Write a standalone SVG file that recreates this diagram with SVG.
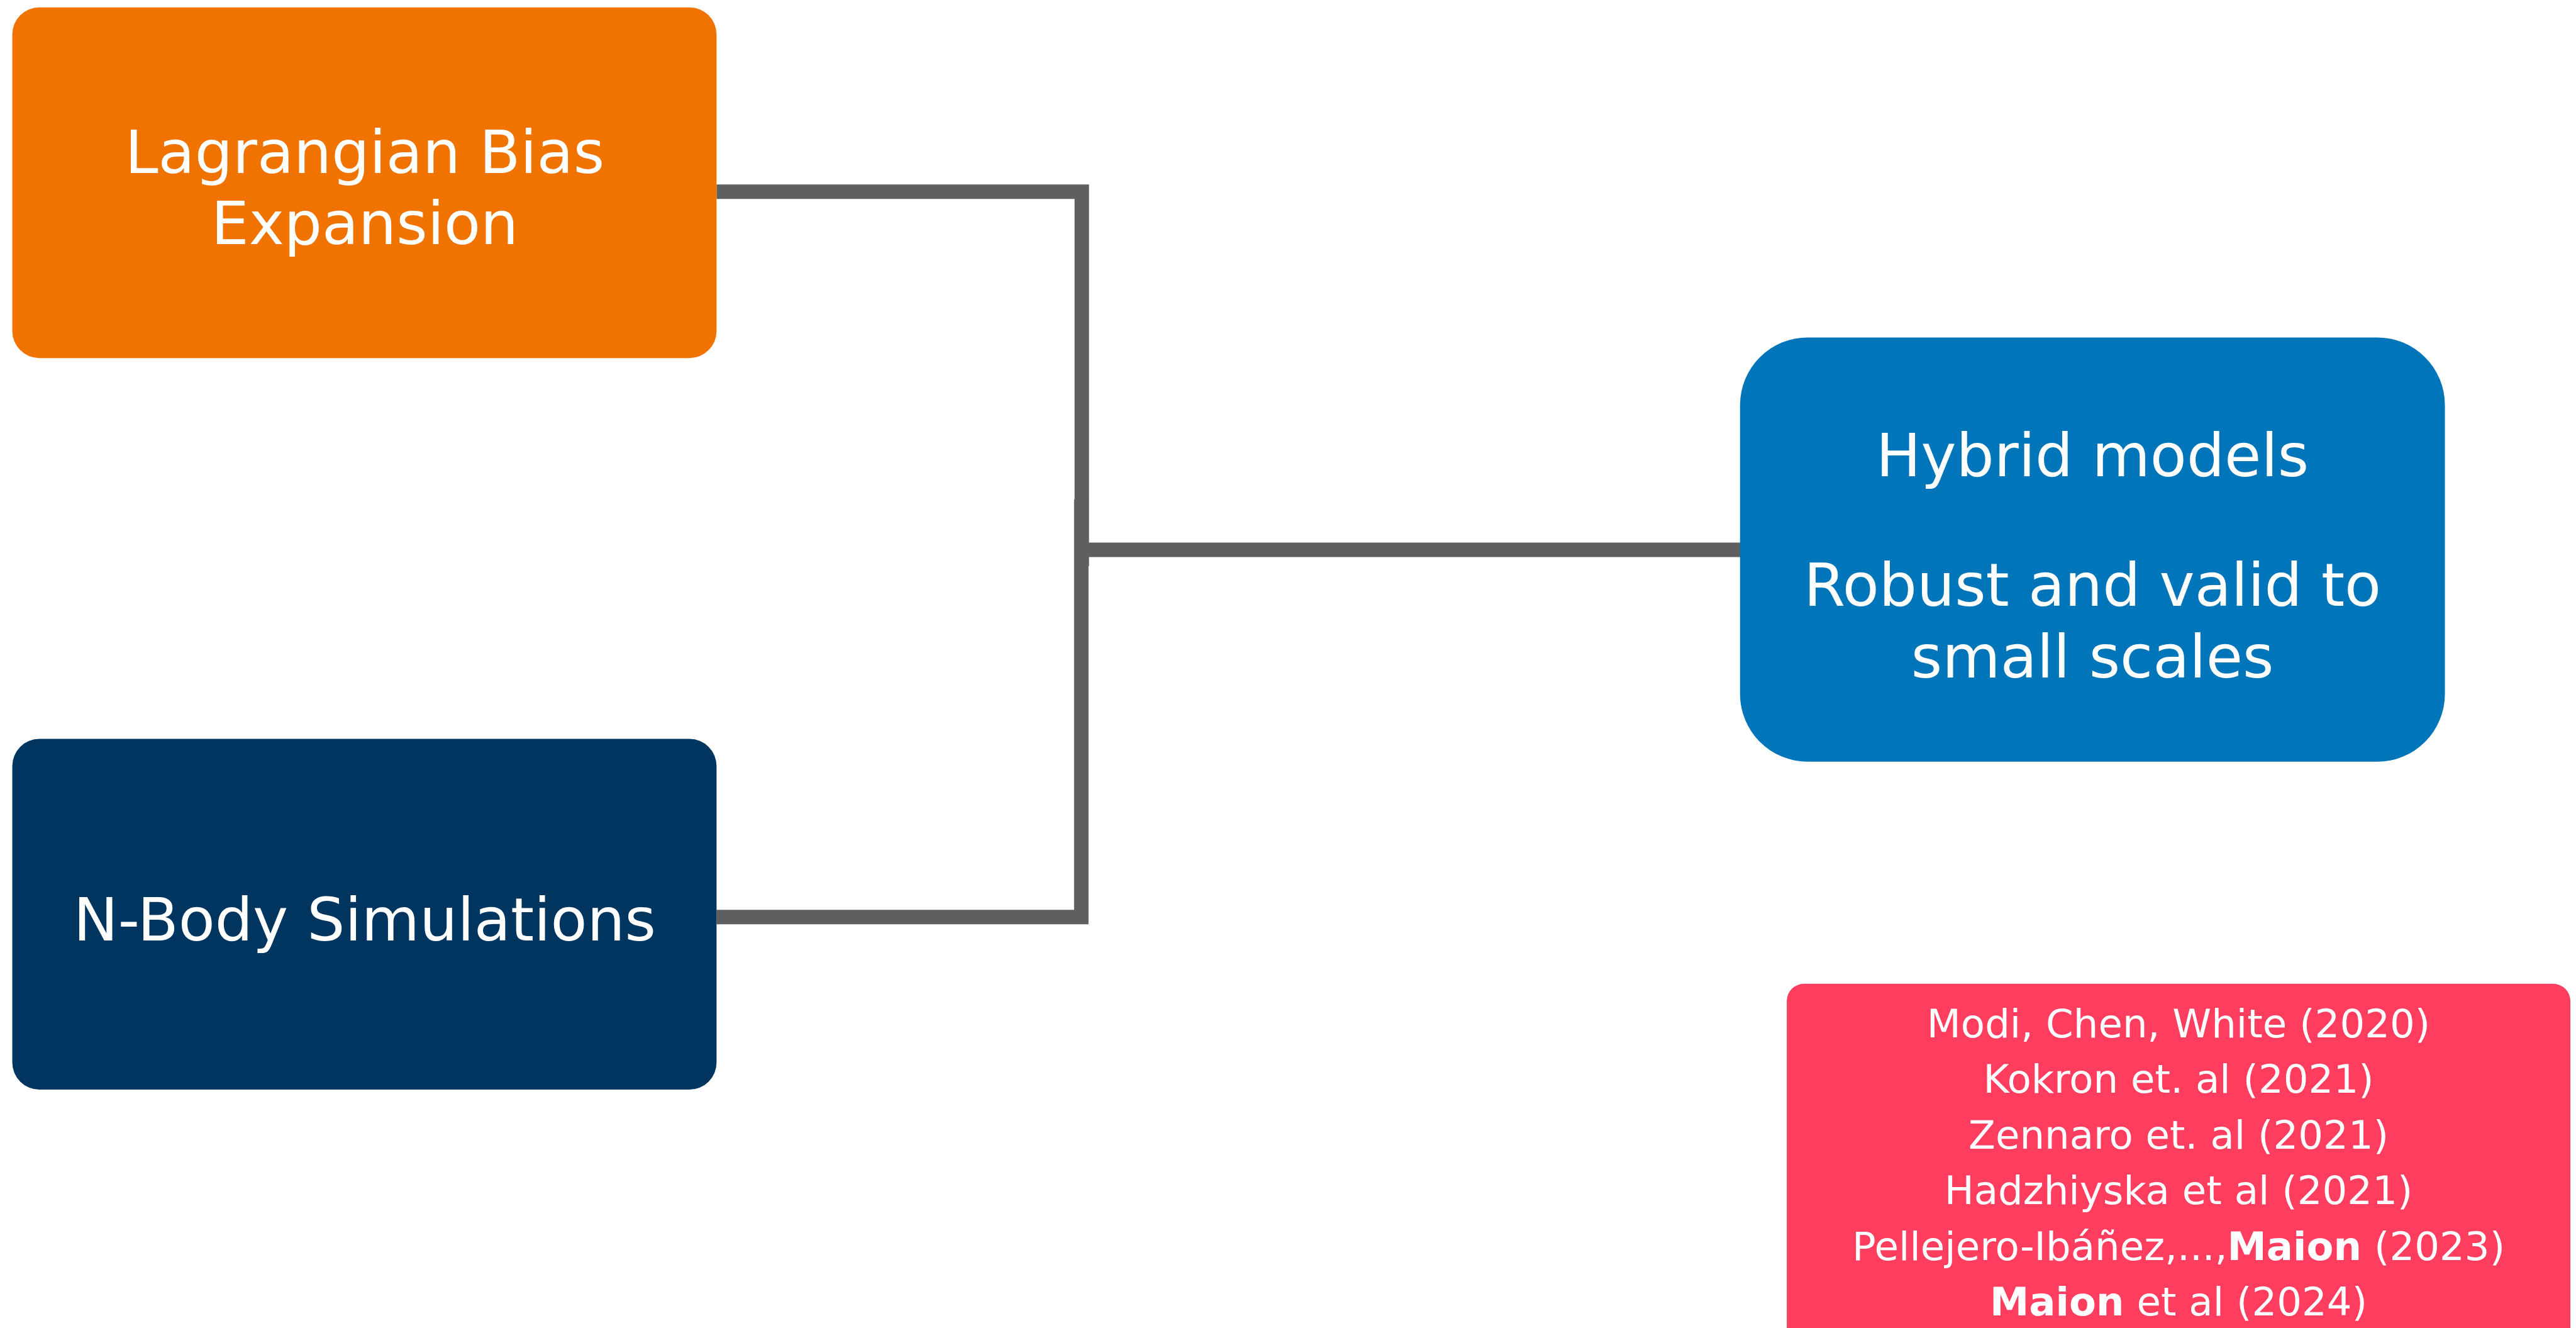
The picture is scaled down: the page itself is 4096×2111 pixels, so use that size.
<svg xmlns="http://www.w3.org/2000/svg" width="4096" height="2111" viewBox="0 0 4096 2111">
<style>
.lbl{font-family:"DejaVu Sans","Liberation Sans",sans-serif;fill:#ffffff;text-anchor:middle}
.big{font-size:97px}
.ref{font-size:64px}
.b{font-weight:bold}
.conn{fill:none;stroke:#5f5f5f;stroke-width:23.5;stroke-linecap:butt;stroke-linejoin:miter}
</style>
<rect width="4096" height="2111" fill="#ffffff"/>
<g transform="scale(0.978)">
<g id="connectors">
<path class="conn" d="M1165,311.5 H1758.8 V920"/>
<path class="conn" d="M1165,1490.5 H1758 V811.7"/>
<path class="conn" d="M1758,893.7 H2830"/>
</g>
<g id="node-lagrangian">
<rect x="20" y="12" width="1145" height="570" rx="44" fill="#f07300"/>
<text class="lbl big" x="593" y="281">Lagrangian Bias</text>
<text class="lbl big" x="593" y="397">Expansion</text>
</g>
<g id="node-nbody">
<rect x="20" y="1201" width="1145" height="570" rx="44" fill="#00355f"/>
<text class="lbl big" x="593" y="1529" font-size="98">N-Body Simulations</text>
</g>
<g id="node-hybrid">
<rect x="2829" y="548.5" width="1146" height="689.5" rx="110" fill="#0075b9"/>
<text class="lbl big" x="3402" y="774">Hybrid models</text>
<text class="lbl big" x="3402" y="985">Robust and valid to</text>
<text class="lbl big" x="3402" y="1101">small scales</text>
</g>
<g id="node-refs">
<rect x="2905" y="1599" width="1274" height="620" rx="28" fill="#ff3d5f"/>
<text class="lbl ref" x="3542" y="1686">Modi, Chen, White (2020)</text>
<text class="lbl ref" x="3542" y="1776.5">Kokron et. al (2021)</text>
<text class="lbl ref" x="3542" y="1867">Zennaro et. al (2021)</text>
<text class="lbl ref" x="3542" y="1957">Hadzhiyska et al (2021)</text>
<text class="lbl ref" x="3542" y="2048">Pellejero-Ibáñez,...,<tspan class="b">Maion</tspan> (2023)</text>
<text class="lbl ref" x="3542" y="2138"><tspan class="b">Maion</tspan> et al (2024)</text>
</g>
</g>
</svg>
